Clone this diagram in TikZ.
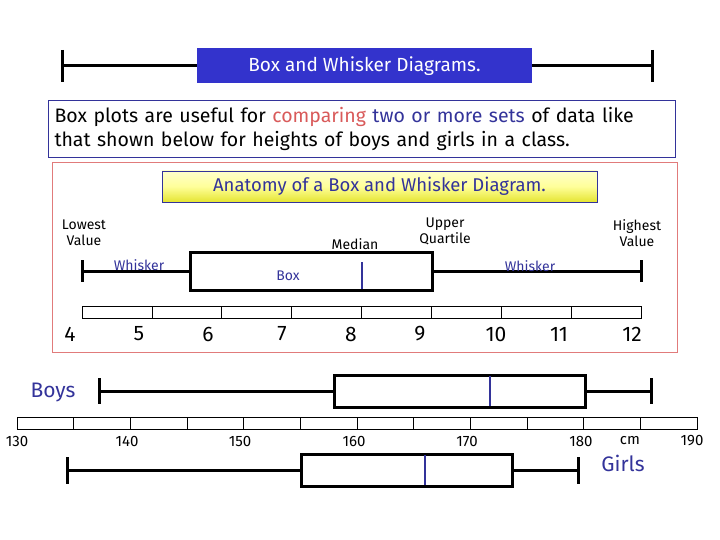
\documentclass[tikz,border=0pt]{standalone}
\usepackage{fontspec}
\setmainfont{Fira Sans}
\begin{document}
\begin{tikzpicture}[x=1pt,y=-1pt,
  thk/.style={line width=3pt},
  bx/.style={draw,line width=3pt},
  med/.style={draw=myblue,line width=2.5pt},
  lbl/.style={font=\fontsize{14}{16}\selectfont,align=center,inner sep=0pt},
  blbl/.style={lbl,text=myblue},
  num/.style={font=\fontsize{21}{21}\selectfont,inner sep=0pt},
  snum/.style={font=\fontsize{15}{15}\selectfont,inner sep=0pt},
  cell/.style={draw,line width=0.6pt}]
\definecolor{myblue}{HTML}{33339A}
\definecolor{titleblue}{HTML}{3333CC}
\definecolor{myred}{HTML}{D95A5A}
\useasboundingbox (0,0) rectangle (720,540);
% title
\coordinate (tl) at (62,66); \coordinate (tr) at (652,66);
\draw[thk] (tl) -- (tr);
\draw[thk] (62,50) -- (62,82); \draw[thk] (652,50) -- (652,82);
\node[fill=titleblue,text=white,minimum width=335pt,minimum height=35pt,inner sep=0pt,font=\fontsize{19}{20}\selectfont] (title) at (364.5,66) {Box and Whisker Diagrams.};
% intro
\node[draw=myblue,line width=0.8pt,fill=white,minimum width=627pt,minimum height=57pt,align=left,inner sep=6pt,font=\fontsize{19.5}{24}\selectfont,text width=614pt] (intro) at (361.5,128.5)
{Box plots are useful for \textcolor{myred}{comparing} \textcolor{myblue}{two or more sets} of data like\\ that shown below for heights of boys and girls in a class.};
% panel
\node[draw=myred!80,line width=0.8pt,minimum width=625pt,minimum height=190pt,inner sep=0pt] (panel) at (364.5,257) {};
\node[draw=myblue,line width=0.8pt,top color=yellow!20,bottom color=yellow!70!olive!70,middle color=yellow!40,minimum width=435pt,minimum height=31pt,inner sep=0pt,text=myblue,font=\fontsize{18.5}{19}\selectfont] (anat) at (379.5,186.5) {Anatomy of a Box and Whisker Diagram.};
% anatomy plot
\draw[thk] (82,260) -- (82,282); \draw[thk] (641,260) -- (641,282);
\draw[thk] (82,271) -- (190,271); \draw[thk] (432,271) -- (641,271);
\draw[bx] (190,252) rectangle (432,290);
\draw[med] (362,262) -- (362,289);
\node[lbl] (lv) at (84,233) {Lowest\\Value};
\node[blbl] (w1) at (139,265) {Whisker};
\node[blbl] (bl) at (288,276) {Box};
\node[lbl] (md) at (355,244) {Median};
\node[lbl] (uq) at (445,231) {Upper\\Quartile};
\node[blbl] (w2) at (530,266) {Whisker};
\node[lbl] (hv) at (637,233) {Highest\\Value};
\foreach \i in {0,...,7} \draw[cell] ({82+\i*69.875},306) rectangle ({82+(\i+1)*69.875},318);
\foreach \n/\x in {4/70,5/139,6/208,7/282,8/351,9/420,10/496,11/559,12/632}
  \node[num] at (\x,334) {\n};
% boys
\node[text=myblue,font=\fontsize{21}{21}\selectfont,inner sep=0pt] (boys) at (53,392) {Boys};
\draw[thk] (99,378) -- (99,404); \draw[thk] (651,378) -- (651,404);
\draw[thk] (99,391) -- (334,391); \draw[thk] (585,391) -- (651,391);
\draw[bx] (334,375) rectangle (585,407);
\draw[med] (490,376) -- (490,406);
% scale
\foreach \i in {0,...,11} \draw[cell] ({17+\i*56.67},417) rectangle ({17+(\i+1)*56.67},429);
\foreach \n/\x in {130/17,140/127,150/240,160/354,170/467,180/581,cm/630,190/692}
  \node[snum] at (\x,441) {\n};
% girls
\draw[thk] (67,457) -- (67,484); \draw[thk] (578,457) -- (578,484);
\draw[thk] (67,470) -- (301,470); \draw[thk] (512,470) -- (578,470);
\draw[bx] (301,454) rectangle (512,486);
\draw[med] (425,455) -- (425,485);
\node[text=myblue,font=\fontsize{21}{21}\selectfont,inner sep=0pt] (girls) at (623,463) {Girls};
\end{tikzpicture}
\end{document}
